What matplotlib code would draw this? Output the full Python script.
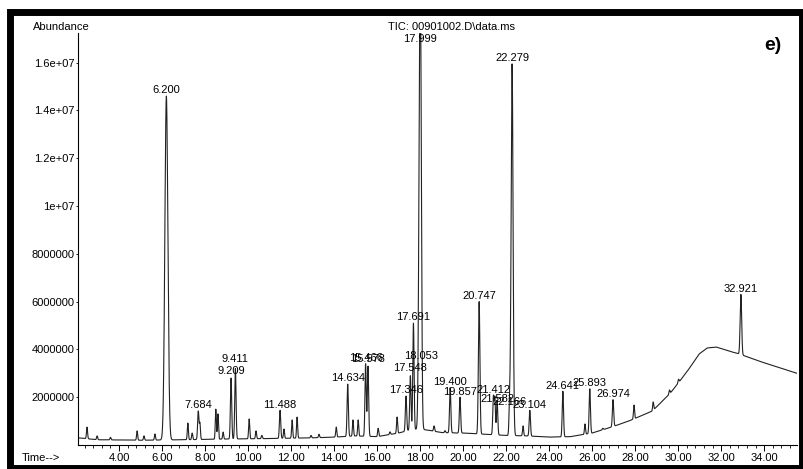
import matplotlib
matplotlib.use("Agg")
import matplotlib.pyplot as plt
import numpy as np
from matplotlib.ticker import MultipleLocator, FixedLocator
from matplotlib.patches import Rectangle

plt.rcParams["font.family"] = ["Liberation Sans", "DejaVu Sans"]

# labelled peaks: retention time (min) and apex abundance
peak_times = [6.200, 7.684, 9.209, 9.411, 11.488, 14.634, 15.466, 15.578,
              17.346, 17.548, 17.691, 17.999, 18.053, 19.400, 19.857, 20.747,
              21.412, 21.582, 22.166, 22.279, 23.104, 24.641, 25.893, 26.974,
              32.921]
peak_heights = [14.6e6, 1.42e6, 2.8e6, 3.2e6, 1.45e6, 2.55e6, 3.4e6, 3.3e6,
                2.05e6, 2.9e6, 5.1e6, 19.0e6, 3.3e6, 2.4e6, 2.0e6, 6.0e6,
                2.05e6, 1.85e6, 1.7e6, 15.95e6, 1.45e6, 2.25e6, 2.35e6, 1.9e6,
                6.3e6]
peak_widths = [0.07, 0.03, 0.03, 0.03, 0.03, 0.03, 0.03, 0.03,
               0.03, 0.03, 0.03, 0.05, 0.03, 0.03, 0.03, 0.035,
               0.03, 0.03, 0.03, 0.045, 0.03, 0.03, 0.03, 0.03,
               0.035]
# labels lifted above neighbours where the instrument stacked them
label_heights = {"9.411": 3.35e6, "9.209": 2.85e6, "18.053": 3.5e6,
                 "17.548": 3.0e6, "15.578": 3.35e6, "21.582": 1.7e6,
                 "22.166": 1.55e6, "17.999": 16.75e6}

# small unlabelled peaks (time, apex abundance)
minor_times = [2.51, 2.98, 3.6, 4.84, 5.16, 5.67, 7.20, 7.40, 7.76, 8.50, 8.60,
               8.84, 10.05, 10.37, 10.64, 11.67, 12.05, 12.28, 12.93, 13.30,
               14.10, 14.88, 15.12, 16.05, 16.60, 16.93, 18.65, 19.16, 19.72,
               21.48, 22.79, 25.67, 26.50, 27.95, 28.84, 29.60, 30.02]
minor_heights = [0.75e6, 0.38e6, 0.32e6, 0.59e6, 0.38e6, 0.46e6, 0.92e6, 0.5e6,
                 0.9e6, 1.5e6, 1.3e6, 0.54e6, 1.09e6, 0.59e6, 0.4e6, 0.67e6,
                 1.05e6, 1.17e6, 0.4e6, 0.45e6, 0.75e6, 1.05e6, 1.05e6, 0.7e6,
                 0.55e6, 1.17e6, 0.8e6, 0.6e6, 0.5e6, 1.9e6, 0.8e6, 0.88e6,
                 0.7e6, 1.67e6, 1.8e6, 2.3e6, 2.75e6]

# baseline drift (column bleed hump at the end)
base_times = [2.09, 3, 5, 7, 9, 11, 13, 14, 15, 16, 17, 17.5, 18, 18.5, 19,
              20, 21, 22, 23, 24, 25, 26, 26.9, 27.7, 28.8, 29.6, 30.05, 30.5,
              30.98, 31.35, 31.77, 32.37, 32.84, 33.9, 35.53]
base_values = [0.3e6, 0.22e6, 0.2e6, 0.22e6, 0.25e6, 0.27e6, 0.3e6, 0.33e6,
               0.38e6, 0.35e6, 0.5e6, 0.62e6, 0.67e6, 0.6e6, 0.52e6, 0.5e6,
               0.45e6, 0.4e6, 0.38e6, 0.33e6, 0.35e6, 0.5e6, 0.75e6, 1.0e6,
               1.42e6, 2.13e6, 2.64e6, 3.18e6, 3.81e6, 4.06e6, 4.1e6, 3.93e6,
               3.81e6, 3.47e6, 3.0e6]

y_ticks = [2e6, 4e6, 6e6, 8e6, 10e6, 12e6, 14e6, 16e6]
y_tick_labels = ["2000000", "4000000", "6000000", "8000000",
                 "1e+07", "1.2e+07", "1.4e+07", "1.6e+07"]

t = np.linspace(2.09, 35.53, 8000)
base = np.interp(t, base_times, base_values)
signal = base.copy()
for pt, ph, pw in zip(peak_times, peak_heights, peak_widths):
    signal += (ph - np.interp(pt, base_times, base_values)) * np.exp(-0.5 * ((t - pt) / pw) ** 2)
for mt, mh in zip(minor_times, minor_heights):
    signal += (mh - np.interp(mt, base_times, base_values)) * np.exp(-0.5 * ((t - mt) / 0.025) ** 2)

W, H = 804, 469
fig = plt.figure(figsize=(W / 100, H / 100), dpi=100)
ax = fig.add_axes([78 / W, 1 - 445 / H, (797 - 78) / W, (445 - 33) / H])

ax.plot(t, signal, color="#222222", lw=0.8)
ax.set_xlim(2.09, 35.53)
ax.set_ylim(0, 17.24e6)

for sp in ["top", "right"]:
    ax.spines[sp].set_visible(False)
ax.spines["left"].set_linewidth(0.8)
ax.spines["bottom"].set_linewidth(0.8)

ax.xaxis.set_major_locator(FixedLocator(np.arange(4, 35, 2)))
ax.xaxis.set_minor_locator(MultipleLocator(0.4))
ax.set_xticklabels([f"{v:.2f}" for v in np.arange(4, 35, 2)], fontsize=8)
ax.tick_params(axis="x", which="major", length=4, width=0.7, pad=2)
ax.tick_params(axis="x", which="minor", length=2.5, width=0.6)
ax.set_yticks(y_ticks)
ax.set_yticklabels(y_tick_labels, fontsize=8)
ax.tick_params(axis="y", length=1.5, width=0.6, pad=1)

for pt, ph in zip(peak_times, peak_heights):
    lab = f"{pt:.3f}"
    ly = label_heights.get(lab, ph)
    ax.annotate(lab, (pt, ly), xytext=(0, 0.5), textcoords="offset points",
                ha="center", va="bottom", fontsize=8, annotation_clip=False)

fig.text(33 / W, 1 - 27 / H, "Abundance", fontsize=8, va="center")
fig.text(22 / W, 1 - 458 / H, "Time-->", fontsize=8, va="center")
fig.text(452 / W, 1 - 27 / H, "TIC: 00901002.D\\data.ms", fontsize=8,
         ha="center", va="center")
fig.text(773 / W, 1 - 45 / H, "e)", fontsize=14, fontweight="bold",
         ha="center", va="center")

# black border of the scanned panel
fig.patches.append(Rectangle((10.5 / W, 1 - 468 / H), 791.5 / W, 455.5 / H,
                             transform=fig.transFigure, fill=False,
                             edgecolor="black", lw=5))

fig.savefig("out.png", dpi=100)
